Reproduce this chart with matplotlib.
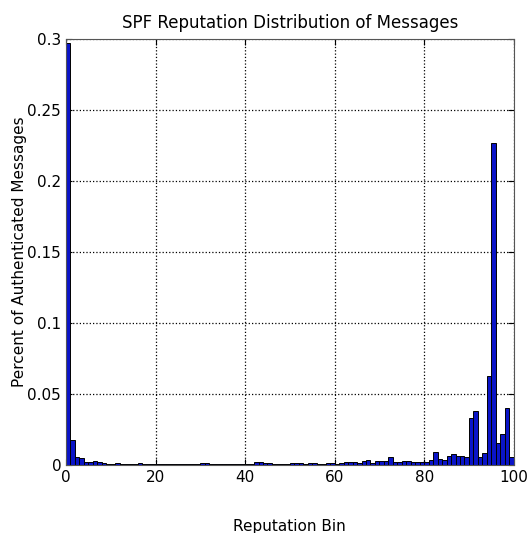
import matplotlib
matplotlib.use("Agg")
import matplotlib.pyplot as plt
import numpy as np

title = "SPF Reputation Distribution of Messages"
xlabel = "Reputation Bin"
ylabel = "Percent of Authenticated Messages"

bins = list(range(100))
values = [
    0.297, 0.018, 0.006, 0.005, 0.002, 0.002, 0.003, 0.002, 0.0015, 0.0012,   # 0-9
    0.0012, 0.0015, 0.0012, 0.001, 0.0012, 0.0012, 0.0015, 0.001, 0.0008, 0.0008,  # 10-19
    0.0008, 0.0008, 0.0008, 0.0008, 0.0008, 0.0008, 0.001, 0.001, 0.001, 0.001,  # 20-29
    0.0015, 0.0015, 0.001, 0.001, 0.0012, 0.001, 0.0012, 0.0012, 0.001, 0.001,  # 30-39
    0.001, 0.001, 0.002, 0.0025, 0.0015, 0.0015, 0.0012, 0.0012, 0.0012, 0.0012,  # 40-49
    0.0015, 0.0015, 0.0015, 0.0012, 0.0015, 0.0015, 0.0012, 0.0012, 0.0015, 0.0015,  # 50-59
    0.0012, 0.0015, 0.002, 0.002, 0.002, 0.0015, 0.003, 0.0035, 0.0015, 0.003,  # 60-69
    0.003, 0.003, 0.0057, 0.0026, 0.0026, 0.003, 0.003, 0.0026, 0.0026, 0.002,  # 70-79
    0.002, 0.004, 0.0096, 0.0045, 0.004, 0.0065, 0.008, 0.0065, 0.0065, 0.006,  # 80-89
    0.0335, 0.038, 0.006, 0.009, 0.063, 0.227, 0.0157, 0.022, 0.040, 0.0057,  # 90-99
]
xticks = [0, 20, 40, 60, 80, 100]
yticks = [0, 0.05, 0.1, 0.15, 0.2, 0.25, 0.3]
yticklabels = ["0", "0.05", "0.1", "0.15", "0.2", "0.25", "0.3"]

fig = plt.figure(figsize=(5.28, 5.33), dpi=100)
ax = fig.add_axes([0.125, 0.127, 0.848, 0.80])
ax.bar(bins, values, width=1.0, align="edge", color="#0a14c8",
       edgecolor="black", linewidth=0.7, zorder=2)
ax.set_xlim(0, 100)
ax.set_ylim(0, 0.3)
ax.set_xticks(xticks)
ax.set_xticklabels([str(t) for t in xticks])
ax.set_yticks(yticks)
ax.set_yticklabels(yticklabels)
ax.grid(True, linestyle=":", color="black", linewidth=0.9, zorder=1)
ax.tick_params(direction="in", top=True, right=True, labelsize=11, length=4)
for s in ax.spines.values():
    s.set_color("#555555")
ax.set_title(title, fontsize=12, pad=8)
ax.set_xlabel(xlabel, fontsize=11, labelpad=24)
ax.set_ylabel(ylabel, fontsize=11, labelpad=0)
fig.savefig("out.png", dpi=100)
